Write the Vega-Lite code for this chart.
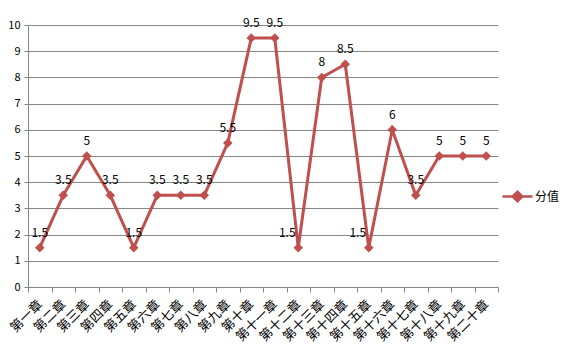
{
  "$schema": "https://vega.github.io/schema/vega-lite/v6.json",
  "width": 470,
  "height": 262,
  "autosize": {"type": "none"},
  "padding": {"left": 28, "top": 25, "right": 70, "bottom": 66},
  "background": "white",
  "config": {
    "view": {"stroke": null},
    "font": "Noto Sans CJK SC",
    "axis": {"labelFont": "Noto Sans CJK SC", "labelColor": "#000000", "labelFontSize": 11}
  },
  "data": {
    "values": [
      {"chapter": "第一章", "score": 1.5},
      {"chapter": "第二章", "score": 3.5},
      {"chapter": "第三章", "score": 5},
      {"chapter": "第四章", "score": 3.5},
      {"chapter": "第五章", "score": 1.5},
      {"chapter": "第六章", "score": 3.5},
      {"chapter": "第七章", "score": 3.5},
      {"chapter": "第八章", "score": 3.5},
      {"chapter": "第九章", "score": 5.5},
      {"chapter": "第十章", "score": 9.5},
      {"chapter": "第十一章", "score": 9.5},
      {"chapter": "第十二章", "score": 1.5},
      {"chapter": "第十三章", "score": 8},
      {"chapter": "第十四章", "score": 8.5},
      {"chapter": "第十五章", "score": 1.5},
      {"chapter": "第十六章", "score": 6},
      {"chapter": "第十七章", "score": 3.5},
      {"chapter": "第十八章", "score": 5},
      {"chapter": "第十九章", "score": 5},
      {"chapter": "第二十章", "score": 5}
    ]
  },
  "encoding": {
    "x": {
      "field": "chapter",
      "type": "nominal",
      "sort": null,
      "scale": {"type": "band", "paddingInner": 0, "paddingOuter": 0},
      "axis": {
        "title": null,
        "labelAngle": -45,
        "labelAlign": "right",
        "labelBaseline": "middle",
        "labelPadding": 10,
        "tickBand": "extent",
        "tickSize": 5,
        "tickColor": "#868686",
        "domainColor": "#868686",
        "grid": false,
        "labelFontSize": 13
      }
    },
    "y": {
      "field": "score",
      "type": "quantitative",
      "scale": {"domain": [0, 10], "nice": false},
      "axis": {
        "title": null,
        "values": [0, 1, 2, 3, 4, 5, 6, 7, 8, 9, 10],
        "grid": true,
        "gridColor": "#868686",
        "tickColor": "#868686",
        "domainColor": "#868686",
        "tickSize": 4,
        "labelPadding": 4
      }
    }
  },
  "layer": [
    {
      "mark": {"type": "line", "strokeWidth": 3, "color": "#C0504D"},
      "encoding": {
        "color": {
          "datum": "分值",
          "scale": {"range": ["#C0504D"]},
          "legend": {
            "title": null,
            "orient": "none",
            "legendX": 473,
            "legendY": 155,
            "symbolType": "M-1,0H1M-0.32,0L0,-0.32L0.32,0L0,0.32Z",
            "symbolSize": 900,
            "symbolStrokeWidth": 2.5,
            "symbolFillColor": "#C0504D",
            "symbolStrokeColor": "#C0504D",
            "labelFontSize": 12,
            "labelColor": "#000000",
            "labelOffset": 1
          }
        }
      }
    },
    {
      "mark": {"type": "point", "shape": "diamond", "filled": true, "size": 90, "color": "#C0504D", "opacity": 1}
    },
    {
      "transform": [{"filter": "datum.chapter !== '第十二章' && datum.chapter !== '第十五章'"}],
      "mark": {"type": "text", "dy": -15, "fontSize": 12, "color": "#000000"},
      "encoding": {"text": {"field": "score", "type": "quantitative"}}
    },
    {
      "transform": [{"filter": "datum.chapter === '第十二章' || datum.chapter === '第十五章'"}],
      "mark": {"type": "text", "dy": -15, "dx": -11, "fontSize": 12, "color": "#000000"},
      "encoding": {"text": {"field": "score", "type": "quantitative"}}
    }
  ]
}
